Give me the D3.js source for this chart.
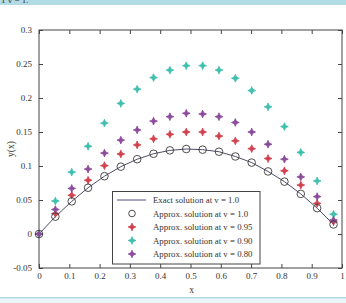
<!DOCTYPE html>
<html>
<head>
<meta charset="utf-8">
<script src="https://cdn.jsdelivr.net/npm/d3@7"></script>
<style>
  body { margin: 0; background: #fff; }
  text { font-family: "Liberation Serif", "DejaVu Serif", serif; }
</style>
</head>
<body>
<div id="the_chart"></div>
<script>
// node positions
var xs = [0, 0.054, 0.108, 0.162, 0.216, 0.270, 0.324, 0.378, 0.432, 0.486,
          0.540, 0.594, 0.648, 0.702, 0.756, 0.810, 0.864, 0.918, 0.972];
// exact solution at v = 1.0 (also the approx. at v = 1.0, they coincide)
var exact = [0, 0.0255, 0.048, 0.068, 0.085, 0.099, 0.110, 0.118, 0.123, 0.125,
             0.124, 0.121, 0.114, 0.105, 0.092, 0.077, 0.059, 0.038, 0.014];
var approx10 = [0, 0.0255, 0.048, 0.068, 0.085, 0.099, 0.110, 0.118, 0.123, 0.125,
                0.124, 0.121, 0.114, 0.105, 0.092, 0.077, 0.059, 0.038, 0.014];
var approx095 = [0, 0.030, 0.057, 0.079, 0.1005, 0.1176, 0.131, 0.140, 0.1466, 0.150,
                 0.150, 0.144, 0.137, 0.1255, 0.111, 0.093, 0.072, 0.045, 0.018];
var approx090 = [0, 0.0485, 0.091, 0.129, 0.163, 0.192, 0.213, 0.230, 0.241, 0.2475,
                 0.2475, 0.241, 0.229, 0.211, 0.187, 0.158, 0.120, 0.078, 0.029];
var approx080 = [0, 0.036, 0.067, 0.0955, 0.119, 0.138, 0.153, 0.166, 0.1725, 0.1775,
                 0.1765, 0.1725, 0.164, 0.150, 0.132, 0.110, 0.084, 0.055, 0.0205];

var xticks = [0, 0.1, 0.2, 0.3, 0.4, 0.5, 0.6, 0.7, 0.8, 0.9, 1];
var yticks = [-0.05, 0, 0.05, 0.1, 0.15, 0.2, 0.25, 0.3];

var legendLabels = ["Exact solution at v = 1.0", "Approx. solution at v = 1.0",
                    "Approx. solution at v = 0.95", "Approx. solution at v = 0.90",
                    "Approx. solution at v = 0.80"];

var w = 346, h = 303;
var padL = 39, padR = 342, padT = 30, padB = 268;

var svg = d3.select("#the_chart").append("svg")
    .attr("width", w)
    .attr("height", h);

// page bands (caption above, separator below)
svg.append("rect").attr("x", 0).attr("y", 0).attr("width", w).attr("height", 5).attr("fill", "#b3dbe5");
svg.append("text").attr("x", 1).attr("y", 3).attr("font-size", 9).attr("fill", "#333").text("1  v = 1.");
svg.append("rect").attr("x", 0).attr("y", 297).attr("width", w).attr("height", 6).attr("fill", "#eaf6f9");
svg.append("rect").attr("x", 0).attr("y", 297).attr("width", w).attr("height", 1.5).attr("fill", "#b3dbe5");

var xscale = d3.scaleLinear().domain([0, 1]).range([padL, padR]);
var yscale = d3.scaleLinear().domain([-0.05, 0.3]).range([padB, padT]);

var axisColor = "#444";
var tickFmt = function (d) { return String(+d.toFixed(2)); };

// axes, ticks pointing inward on all four sides
var xaxis = d3.axisBottom(xscale).tickValues(xticks).tickSize(-4).tickPadding(5).tickFormat(tickFmt);
var xaxisTop = d3.axisTop(xscale).tickValues(xticks).tickSize(-4).tickFormat("");
var yaxis = d3.axisLeft(yscale).tickValues(yticks).tickSize(-4).tickPadding(7).tickFormat(tickFmt);
var yaxisRight = d3.axisRight(yscale).tickValues(yticks).tickSize(-4).tickFormat("");

function styleAxis(g) {
    g.select(".domain").remove();
    g.selectAll("line").attr("stroke", axisColor);
    g.selectAll("text").attr("font-family", "Liberation Serif, serif").attr("font-size", 9).attr("fill", "#333");
}

svg.append("g").attr("transform", "translate(0," + padB + ")").call(xaxis).call(styleAxis);
svg.append("g").attr("transform", "translate(0," + padT + ")").call(xaxisTop).call(styleAxis);
svg.append("g").attr("transform", "translate(" + padL + ",0)").call(yaxis).call(styleAxis);
svg.append("g").attr("transform", "translate(" + padR + ",0)").call(yaxisRight).call(styleAxis);

svg.append("rect")
    .attr("x", padL).attr("y", padT)
    .attr("width", padR - padL).attr("height", padB - padT)
    .attr("fill", "none").attr("stroke", axisColor).attr("stroke-width", 1);

// axis titles
svg.append("text").attr("x", (padL + padR) / 2 + 1).attr("y", 293)
    .attr("text-anchor", "middle").attr("font-size", 9.5).attr("fill", "#333").text("x");
svg.append("text").attr("transform", "translate(14," + ((padT + padB) / 2) + ") rotate(-90)")
    .attr("text-anchor", "middle").attr("font-size", 9.5).attr("fill", "#333").text("y(x)");

// exact solution line
var line = d3.line()
    .x(function (d, i) { return xscale(xs[i]); })
    .y(function (d) { return yscale(d); });

svg.append("path").datum(exact)
    .attr("d", line)
    .attr("fill", "none")
    .attr("stroke", "#4d4d66")
    .attr("stroke-width", 1);

// four-pointed star markers
var star4 = {
    draw: function (ctx, size) {
        var r = Math.sqrt(size), a = r * 0.3;
        ctx.moveTo(0, -r);
        ctx.lineTo(a, -a);
        ctx.lineTo(r, 0);
        ctx.lineTo(a, a);
        ctx.lineTo(0, r);
        ctx.lineTo(-a, a);
        ctx.lineTo(-r, 0);
        ctx.lineTo(-a, -a);
        ctx.closePath();
    }
};
var star = d3.symbol().type(star4).size(15);
var series = [
    { data: approx095, color: "#d2404c" },
    { data: approx090, color: "#3fbfae" },
    { data: approx080, color: "#8c4a9c" }
];

series.forEach(function (s) {
    svg.append("g").selectAll("path")
        .data(s.data)
        .enter().append("path")
        .attr("d", star)
        .attr("transform", function (d, i) {
            return "translate(" + xscale(xs[i]) + "," + yscale(d) + ")";
        })
        .attr("fill", s.color)
        .attr("stroke", s.color)
        .attr("stroke-width", 0.8)
        .attr("stroke-linejoin", "round");
});

// circles for approx at v = 1.0
svg.append("g").selectAll("circle")
    .data(approx10)
    .enter().append("circle")
    .attr("cx", function (d, i) { return xscale(xs[i]); })
    .attr("cy", function (d) { return yscale(d); })
    .attr("r", 3.8)
    .attr("fill", "none")
    .attr("stroke", "#3a3a3a")
    .attr("stroke-width", 0.9);

// legend
var lg = svg.append("g");
lg.append("rect")
    .attr("x", 112.5).attr("y", 191.5)
    .attr("width", 147.5).attr("height", 72.5)
    .attr("fill", "#fff").attr("stroke", axisColor).attr("stroke-width", 1);

var rowY = [200, 213.5, 227, 240.5, 254];
lg.append("line").attr("x1", 117).attr("x2", 146).attr("y1", rowY[0]).attr("y2", rowY[0])
    .attr("stroke", "#4d4d80").attr("stroke-width", 1);
lg.append("circle").attr("cx", 132).attr("cy", rowY[1]).attr("r", 3.3)
    .attr("fill", "none").attr("stroke", "#3a3a3a").attr("stroke-width", 0.9);
series.forEach(function (s, i) {
    lg.append("path").attr("d", star)
        .attr("transform", "translate(132," + rowY[i + 2] + ")")
        .attr("fill", s.color).attr("stroke", s.color).attr("stroke-width", 0.8)
        .attr("stroke-linejoin", "round");
});
lg.selectAll("text.lab")
    .data(legendLabels)
    .enter().append("text")
    .attr("class", "lab")
    .attr("x", 153)
    .attr("y", function (d, i) { return rowY[i] + 3; })
    .attr("font-size", 8.8)
    .attr("fill", "#333")
    .text(function (d) { return d; });
</script>
</body>
</html>
